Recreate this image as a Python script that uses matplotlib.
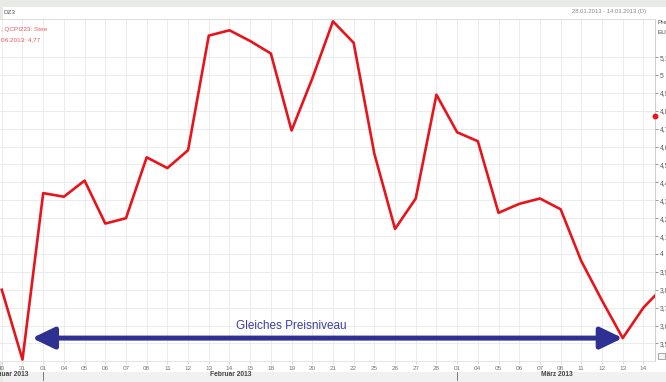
import matplotlib
matplotlib.use("Agg")
import matplotlib.pyplot as plt
from matplotlib.patches import Rectangle
from matplotlib.ticker import FixedLocator, FuncFormatter
import matplotlib.transforms as mtransforms

plt.rcParams['font.family'] = ['Liberation Sans', 'DejaVu Sans']

# --- data: daily closes, 30.01.2013 .. 15.03.2013 ---
day_labels = ['30', '31', '01', '04', '05', '06', '07', '08', '11', '12', '13', '14', '15',
              '18', '19', '20', '21', '22', '25', '26', '27', '28',
              '01', '04', '05', '06', '07', '08', '11', '12', '13', '14']
prices = [3.80, 3.41, 4.34, 4.32, 4.41, 4.17, 4.20, 4.54, 4.48, 4.58, 5.22, 5.25, 5.19,
          5.12, 4.69, 4.98, 5.30, 5.18, 4.56, 4.14, 4.31, 4.89,
          4.68, 4.63, 4.23, 4.28, 4.31, 4.25, 3.96, 3.74, 3.53, 3.70, 3.82]
y_ticks = [3.5, 3.6, 3.7, 3.8, 3.9, 4.0, 4.1, 4.2, 4.3, 4.4, 4.5, 4.6, 4.7, 4.8, 4.9, 5.0, 5.1]
months = ['Januar 2013', 'Februar 2013', 'März 2013']
month_starts = [2, 22]          # index of first trading day of Feb / Mar
last_price = 4.77
arrow_from, arrow_to = 1.46, 30  # index range with same price level
level = prices[30]

W, H = 666, 382
fig = plt.figure(figsize=(W / 100, H / 100), dpi=100, facecolor='#e6ebe5')

# white chart panel on top of the tinted frame
fig.patches.append(Rectangle((3 / W, 10 / H), 1, (H - 17) / H, transform=fig.transFigure,
                             facecolor='white', edgecolor='none', zorder=-2))
# light strip for the month row
fig.patches.append(Rectangle((3 / W, 0), 1, 10 / H, transform=fig.transFigure,
                             facecolor='#f1f1f1', edgecolor='none', zorder=-2))

left_px, right_px, top_px, bot_px = 0, 655, 19, 361
ax = fig.add_axes([left_px / W, (H - bot_px) / H, (right_px - left_px) / W, (bot_px - top_px) / H])
ax.set_facecolor('white')
ax.set_zorder(1)

x = list(range(len(prices)))
ax.plot(x, prices, color='#e8141c', lw=1.9, solid_joinstyle='round', zorder=3)

ax.set_xlim(-0.087, 31.56)
ax.set_ylim(3.402, 5.313)

# grid
ax.xaxis.set_major_locator(FixedLocator(range(len(day_labels))))
ax.set_xticklabels(day_labels)
ax.yaxis.set_major_locator(FixedLocator(y_ticks))
ax.yaxis.set_major_formatter(FuncFormatter(lambda v, p: ('%.1f' % v).replace('.', ',').replace(',0', '')))
ax.grid(True, color='#ececec', lw=0.7)
ax.set_axisbelow(True)

ax.spines['left'].set_visible(False)
ax.spines['top'].set_color('#dcdcdc')
ax.spines['bottom'].set_color('#e4e4e4')
ax.spines['right'].set_color('#cfcfcf')
for sp in ax.spines.values():
    sp.set_linewidth(0.7)

ax.yaxis.tick_right()
ax.tick_params(axis='y', length=2.5, width=0.6, color='#888888', pad=1,
               labelsize=4.8, labelcolor='#555555')
ax.tick_params(axis='x', length=2, width=0.5, color='#cccccc', pad=1.5,
               labelsize=4.6, labelcolor='#777777')

# last value marker on the axis
ax.plot([ax.get_xlim()[1]], [last_price], 'o', color='#e8141c', ms=3.2, clip_on=False, zorder=5)

# double arrow at the common price level
ax.annotate('', xy=(arrow_to, level), xytext=(arrow_from, level),
            arrowprops=dict(arrowstyle='<|-|>,head_length=1.35,head_width=0.65',
                            color='#2e3192', lw=3.6, shrinkA=0, shrinkB=0,
                            mutation_scale=10), zorder=4)
ax.text(13.97, level + 0.035, 'Gleiches Preisniveau',
        ha='center', va='bottom', fontsize=8.5, color='#3c3fa0')

# month labels and separators
trans = mtransforms.blended_transform_factory(ax.transData, fig.transFigure)
fig.text(29 / W, (H - 374) / H, months[0], ha='right', va='center', fontsize=4.8,
         fontweight='bold', color='#444444')
ax.text(11.05, (H - 374) / H, months[1], transform=trans, ha='center', va='center',
        fontsize=4.8, fontweight='bold', color='#444444')
ax.text(26.8, (H - 374) / H, months[2], transform=trans, ha='center', va='center',
        fontsize=4.8, fontweight='bold', color='#444444')
for m in month_starts:
    ax.plot([m, m], [(H - 372) / H, (H - 380) / H], transform=trans, color='#666666',
            lw=0.6, clip_on=False, scalex=False, scaley=False)

# header
fig.text(3 / W, (H - 13) / H, 'DZ3', fontsize=4.6, color='#555555', va='center')
fig.text(572 / W, (H - 12) / H, '28.01.2013 - 14.03.2013 (D)', fontsize=4.2,
         color='#888888', va='center')
fig.text(657 / W, (H - 23) / H, 'Pre', fontsize=4.6, color='#444444', va='center')
fig.text(657 / W, (H - 33) / H, 'EUR', fontsize=4.6, color='#444444', va='center')
fig.text(1 / W, (H - 30) / H, ', QCPI223: Stee', fontsize=4.6, color='#ee5566', va='center')
fig.text(1 / W, (H - 40) / H, '06.2013: 4,77', fontsize=4.6, color='#ee5566', va='center')

# small options box at the lower right
fig.patches.append(Rectangle((658 / W, (H - 359) / H), 7 / W, 6 / H, transform=fig.transFigure,
                             facecolor='#f4f4f4', edgecolor='#999999', lw=0.6, zorder=3))

fig.savefig('out.png', dpi=100, facecolor=fig.get_facecolor())
